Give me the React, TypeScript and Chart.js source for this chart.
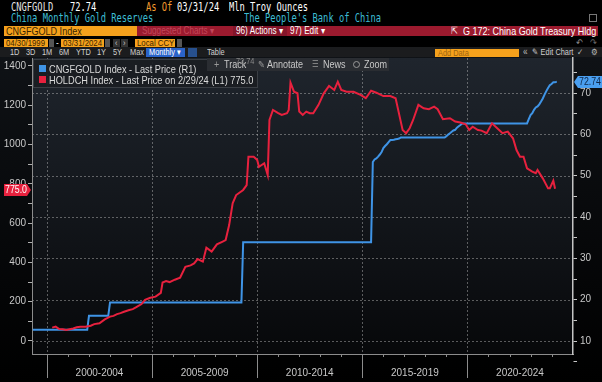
import React, { useEffect, useRef } from 'react';
import { Chart, registerables } from 'chart.js';
Chart.register(...registerables);

// ---------- DATA ----------
const blueDates = [
  '1999-04', '2001-11', '2001-12', '2002-11', '2002-12', '2009-03', '2009-04', '2015-05',
  '2015-06', '2015-07', '2015-08', '2015-09', '2015-10', '2015-11', '2015-12', '2016-01',
  '2016-02', '2016-03', '2016-04', '2016-05', '2016-06', '2016-07', '2016-08', '2016-09',
  '2016-10', '2018-11', '2018-12', '2019-01', '2019-02', '2019-03', '2019-04', '2019-05',
  '2019-06', '2019-07', '2019-08', '2019-09', '2022-10', '2022-11', '2022-12', '2023-01',
  '2023-02', '2023-03', '2023-04', '2023-05', '2023-06', '2023-07', '2023-08', '2023-09',
  '2023-10', '2023-11', '2023-12', '2024-01', '2024-02', '2024-03',
];
const blueValues = [
  12.7, 12.7, 16.08, 16.08, 19.29, 19.29, 33.89, 33.89,
  53.31, 53.93, 54.16, 54.62, 55.12, 55.7, 56.66, 57.18,
  57.61, 58.14, 58.62, 58.64, 58.69, 58.81, 58.89, 58.97,
  59.24, 59.24, 59.56, 59.94, 60.26, 60.62, 60.94, 61.1,
  61.61, 61.94, 62.26, 62.64, 62.64, 63.67, 64.64, 65.12,
  65.92, 66.5, 66.76, 67.27, 67.95, 68.69, 69.62, 70.46,
  71.2, 71.87, 72.19, 72.58, 72.58, 72.74,
];

const redDates = [
  '2000-03', '2000-05', '2000-07', '2000-09', '2000-11', '2001-01', '2001-03', '2001-05',
  '2001-07', '2001-10', '2002-01', '2002-03', '2002-06', '2002-09', '2002-12', '2003-02',
  '2003-04', '2003-06', '2003-08', '2003-11', '2004-01', '2004-03', '2004-06', '2004-08',
  '2004-11', '2005-02', '2005-05', '2005-06', '2005-08', '2005-10', '2006-01', '2006-04',
  '2006-07', '2006-10', '2006-12', '2007-02', '2007-05', '2007-07', '2007-10', '2008-01',
  '2008-04', '2008-06', '2008-08', '2008-10', '2008-12', '2009-04', '2009-06', '2009-07',
  '2009-10', '2009-12', '2010-01', '2010-04', '2010-06', '2010-07', '2010-09', '2010-12',
  '2011-02', '2011-05', '2011-06', '2011-07', '2011-09', '2011-11', '2011-12', '2012-02',
  '2012-04', '2012-06', '2012-08', '2012-11', '2013-02', '2013-05', '2013-08', '2013-10',
  '2013-12', '2014-03', '2014-07', '2014-11', '2015-02', '2015-05', '2015-08', '2015-12',
  '2016-04', '2016-07', '2016-11', '2017-01', '2017-03', '2017-05', '2017-08', '2017-11',
  '2018-02', '2018-05', '2018-07', '2018-10', '2019-02', '2019-05', '2019-08', '2019-11',
  '2020-01', '2020-03', '2020-06', '2020-08', '2020-11', '2021-02', '2021-05', '2021-08',
  '2021-11', '2022-02', '2022-04', '2022-06', '2022-08', '2022-10', '2023-01', '2023-03',
  '2023-04', '2023-07', '2023-10', '2023-11', '2024-01', '2024-02',
];
const redValues = [
  68, 73, 61, 60, 56, 60, 64, 70,
  73, 73, 78, 86, 90, 110, 124, 128,
  137, 142, 149, 158, 162, 172, 188, 209,
  220, 226, 245, 298, 305, 300, 312, 322,
  378, 385, 395, 417, 404, 475, 455, 492,
  505, 514, 590, 701, 743, 769, 794, 938,
  938, 922, 887, 905, 845, 1125, 1176, 1160,
  1151, 1160, 1176, 1315, 1269, 1261, 1168, 1151,
  1168, 1160, 1159, 1202, 1261, 1298, 1278, 1320,
  1278, 1269, 1269, 1253, 1236, 1274, 1264, 1247,
  1247, 1236, 1074, 1058, 1083, 1125, 1202, 1185,
  1180, 1193, 1180, 1129, 1134, 1117, 1112, 1103,
  1074, 1091, 1074, 1071, 1058, 1108, 1083, 1058,
  1066, 1032, 972, 938, 938, 879, 862, 854,
  871, 828, 777, 777, 816, 775,
];

const xTickLabels = ['2000-2004', '2005-2009', '2010-2014', '2015-2019', '2020-2024'];
const xLabelYears = [2002.5, 2007.5, 2012.5, 2017.5, 2022.5];
const xDividerYears = [2000, 2005, 2010, 2015, 2020];
const leftTickValues = [0, 100, 200, 300, 400, 500, 600, 700, 800, 900, 1000, 1100, 1200, 1300, 1400];
const rightTickValues = [5, 10, 15, 20, 25, 30, 35, 40, 45, 50, 55, 60, 65, 70, 75];
const rightGridValues = [10, 20, 30, 40, 50, 60, 70];

// ---------- HELPERS ----------
const SANS = '"Liberation Sans", Arial, sans-serif';
const MONO = '"DejaVu Sans Mono", "Liberation Mono", monospace';
const toYear = (d: string) => {
  const [y, m] = d.split('-').map(Number);
  return y + m / 12;
};
const BLUE = '#3f94e6';
const RED = '#e8213e';

const decor = {
  id: 'decor',
  beforeDraw(chart: any) {
    const { ctx, chartArea: a, width, height } = chart;
    ctx.save();
    let g = ctx.createLinearGradient(0, 0, 0, height);
    g.addColorStop(0, '#0f1216');
    g.addColorStop(1, '#000000');
    ctx.fillStyle = g;
    ctx.fillRect(0, 0, width, height);
    g = ctx.createLinearGradient(0, a.top, 0, a.bottom);
    g.addColorStop(0, '#1f252d');
    g.addColorStop(1, '#07080a');
    ctx.fillStyle = g;
    ctx.fillRect(a.left, a.top, a.right - a.left, a.bottom - a.top);
    ctx.strokeStyle = 'rgba(190,190,190,0.45)';
    ctx.lineWidth = 1;
    ctx.setLineDash([2, 2]);
    const yR = chart.scales.yR;
    rightGridValues.forEach((v) => {
      const y = Math.round(yR.getPixelForValue(v)) + 0.5;
      ctx.beginPath();
      ctx.moveTo(a.left, y);
      ctx.lineTo(a.right, y);
      ctx.stroke();
    });
    const xs = chart.scales.x;
    xDividerYears.forEach((v) => {
      const x = Math.round(xs.getPixelForValue(v)) + 0.5;
      ctx.beginPath();
      ctx.moveTo(x, a.top);
      ctx.lineTo(x, a.bottom);
      ctx.stroke();
    });
    ctx.restore();
  },
  afterDraw(chart: any) {
    const { ctx, chartArea: a } = chart;
    const xs = chart.scales.x;
    ctx.save();
    ctx.strokeStyle = '#8c8c8c';
    ctx.lineWidth = 1;
    for (let yr = 2000; yr <= 2024; yr++) {
      const x = Math.round(xs.getPixelForValue(yr)) + 0.5;
      const len = yr % 5 === 0 ? 24 : 3;
      ctx.beginPath();
      ctx.moveTo(x, a.bottom);
      ctx.lineTo(x, a.bottom + len);
      ctx.stroke();
    }
    // value tags
    const yL = chart.scales.yL;
    const yR = chart.scales.yR;
    const lastRed = redValues[redValues.length - 1];
    const lastBlue = blueValues[blueValues.length - 1];
    let y = Math.round(yL.getPixelForValue(lastRed)) + 1;
    ctx.fillStyle = RED;
    ctx.beginPath();
    ctx.moveTo(4, y - 6);
    ctx.lineTo(27, y - 6);
    ctx.lineTo(31, y);
    ctx.lineTo(27, y + 6);
    ctx.lineTo(4, y + 6);
    ctx.closePath();
    ctx.fill();
    ctx.fillStyle = '#ffffff';
    ctx.font = '10px ' + SANS;
    ctx.textAlign = 'center';
    ctx.textBaseline = 'middle';
    ctx.fillText(lastRed.toFixed(1), 16, y + 0.5, 22);
    y = Math.round(yR.getPixelForValue(lastBlue));
    ctx.fillStyle = '#4a9ff0';
    ctx.beginPath();
    ctx.moveTo(574, y);
    ctx.lineTo(578, y - 6);
    ctx.lineTo(602, y - 6);
    ctx.lineTo(602, y + 6);
    ctx.lineTo(578, y + 6);
    ctx.closePath();
    ctx.fill();
    ctx.fillStyle = '#0d2546';
    ctx.fillText(lastBlue.toFixed(2), 590, y + 0.5, 22);
    ctx.restore();
  },
};

const zeroPad = (s: any) => {
  s.paddingTop = 0;
  s.paddingBottom = 0;
  s.paddingLeft = 0;
  s.paddingRight = 0;
};

// ---------- UI pieces ----------
const Txt = ({ x, y, c = '#d2d2d2', s = 11, f = SANS, sx = 0.82, children, h }: any) => (
  <div style={{ position: 'absolute', left: x, top: y, color: c, fontSize: s, fontFamily: f, lineHeight: `${h ?? s + 1}px`, whiteSpace: 'nowrap', transform: `scaleX(${sx})`, transformOrigin: '0 0' }}>{children}</div>
);
const Mono = ({ x, y, c, children }: any) => (
  <div style={{ position: 'absolute', left: x, top: y, color: c, fontSize: 12, fontFamily: MONO, lineHeight: '12px', whiteSpace: 'pre', transform: 'scaleX(0.73)', transformOrigin: '0 0' }}>{children}</div>
);
const Box = ({ x, y, w, h, bg, c = '#3a2500', s = 10, children, pl = 2, sx = 0.82 }: any) => (
  <div style={{ position: 'absolute', left: x, top: y, width: w, height: h, background: bg, boxSizing: 'border-box', overflow: 'hidden' }}>
    <div style={{ position: 'absolute', left: pl, top: 0, color: c, fontSize: s, fontFamily: SANS, lineHeight: `${h}px`, whiteSpace: 'nowrap', transform: `scaleX(${sx})`, transformOrigin: '0 0' }}>{children}</div>
  </div>
);

export default function App() {
  const ref = useRef<HTMLCanvasElement | null>(null);
  useEffect(() => {
    if (!ref.current) return;
    const chart = new Chart(ref.current, {
      type: 'line',
      data: {
        datasets: [
          {
            label: 'HOLDCH Index',
            data: redDates.map((d, i) => ({ x: toYear(d), y: redValues[i] })),
            borderColor: RED,
            borderWidth: 2,
            pointRadius: 0,
            tension: 0,
            yAxisID: 'yL',
          },
          {
            label: 'CNGFGOLD Index',
            data: blueDates.map((d, i) => ({ x: toYear(d), y: blueValues[i] })),
            borderColor: BLUE,
            borderWidth: 2,
            pointRadius: 0,
            tension: 0,
            yAxisID: 'yR',
          },
        ],
      },
      options: {
        animation: false,
        responsive: false,
        maintainAspectRatio: false,
        layout: { padding: { top: 1, left: 0, right: 0, bottom: 0 } },
        plugins: { legend: { display: false }, tooltip: { enabled: false } },
        scales: {
          x: {
            type: 'linear',
            min: 1999.29,
            max: 2025.02,
            afterBuildTicks: (s: any) => { s.ticks = xLabelYears.map((v) => ({ value: v })); },
            afterFit: (s: any) => { s.height = 28; zeroPad(s); },
            grid: { drawOnChartArea: false, drawTicks: false },
            border: { color: '#8c8c8c', width: 1 },
            ticks: {
              autoSkip: false,
              maxRotation: 0,
              minRotation: 0,
              padding: 13,
              color: '#c8c8c8',
              font: { family: SANS, size: 10 },
              callback: (_v: any, i: number) => xTickLabels[i],
            },
          },
          yL: {
            type: 'linear',
            position: 'left',
            min: -66.2,
            max: 1440.7,
            afterBuildTicks: (s: any) => { s.ticks = leftTickValues.map((v) => ({ value: v })); },
            afterFit: (s: any) => { s.width = 32; zeroPad(s); },
            grid: { drawOnChartArea: false, drawTicks: true, tickLength: 4, tickColor: '#b0b0b0', tickWidth: 1 },
            border: { color: '#8c8c8c', width: 1 },
            ticks: {
              autoSkip: false,
              padding: 2,
              color: '#c8c8c8',
              font: { family: SANS, size: 10 },
              callback: (v: any) => (Number(v) % 200 === 0 ? String(v) : ''),
            },
          },
          yR: {
            type: 'linear',
            position: 'right',
            min: 6.855,
            max: 78.47,
            afterBuildTicks: (s: any) => { s.ticks = rightTickValues.map((v) => ({ value: v })); },
            afterFit: (s: any) => { s.width = 29; zeroPad(s); },
            grid: { drawOnChartArea: false, drawTicks: true, tickLength: 4, tickColor: '#c8c8c8', tickWidth: 1 },
            border: { color: '#c4c4c4', width: 1.5 },
            ticks: {
              autoSkip: false,
              padding: 3,
              color: '#c8c8c8',
              font: { family: SANS, size: 10 },
              callback: (v: any) => (Number(v) % 10 === 0 ? String(v) : ''),
            },
          },
        },
      },
      plugins: [decor],
    } as any);
    return () => chart.destroy();
  }, []);

  return (
    <div style={{ position: 'absolute', left: 0, top: 0, width: 602, height: 382, background: '#000', overflow: 'hidden' }}>
      {/* Row 1 */}
      <Mono x={11} y={1} c="#e4e4e4">CNGFGOLD</Mono>
      <Mono x={70} y={1} c="#ffffff">72.74</Mono>
      <Mono x={146} y={1} c="#f29a2e">As Of</Mono>
      <Mono x={177} y={1} c="#ffffff">03/31/24</Mono>
      <Mono x={229} y={1} c="#ffffff">Mln Troy Ounces</Mono>
      {/* Row 2 */}
      <Mono x={11} y={12} c="#3dbdd4">China Monthly Gold Reserves</Mono>
      <Mono x={244} y={12} c="#3dbdd4">The People's Bank of China</Mono>
      <div style={{ position: 'absolute', left: 589, top: 14, width: 8, height: 8, border: '1px solid #777', boxSizing: 'border-box' }} />
      {/* Row 3 */}
      <Box x={4} y={26} w={133} h={10} bg="#f5a11c" c="#3a2500" s={11}>CNGFGOLD Index</Box>
      <Box x={137} y={26} w={461} h={10} bg="#9b1a2e" c="#c2475a" s={10} pl={5}>Suggested Charts ▾</Box>
      <Box x={233} y={26} w={54} h={10} bg="#85152a" c="#ffffff" s={10} pl={3}>96) Actions ▾</Box>
      <Txt x={290} y={26} c="#ffffff" s={10} h={10}>97) Edit ▾</Txt>
      <Txt x={451} y={26} c="#ffffff" s={10} h={10}>⇱</Txt>
      <Txt x={463} y={26} c="#ffffff" s={11} h={10}>G 172: China Gold Treasury Hldg</Txt>
      {/* Row 4 */}
      <Box x={4} y={39} w={44} h={8} bg="#f5a11c" c="#3a2500" s={9.5}>04/30/1999</Box>
      <Box x={49} y={39} w={5} h={8} bg="#555" />
      <Txt x={56} y={38} c="#ddd" s={10} h={9}>-</Txt>
      <Box x={61} y={39} w={43} h={8} bg="#f5a11c" c="#3a2500" s={9.5}>03/31/2024</Box>
      <Box x={105} y={39} w={5} h={8} bg="#555" />
      <Box x={113} y={39} w={7} h={8} bg="#333" c="#ccc" s={9} pl={2}>‹</Box>
      <Box x={121} y={39} w={7} h={8} bg="#333" c="#ccc" s={9} pl={2}>›</Box>
      <Box x={135} y={39} w={40} h={8} bg="#f5a11c" c="#3a2500" s={9.5}>Local CCY</Box>
      <Box x={177} y={39} w={5} h={8} bg="#555" />
      <Txt x={576} y={38} c="#888" s={10} h={9}>↶</Txt>
      <Txt x={590} y={38} c="#666" s={10} h={9}>↷</Txt>
      {/* Row 5 */}
      <div style={{ position: 'absolute', left: 0, top: 47, width: 602, height: 10, background: '#1b1c1e' }} />
      <Txt x={10} y={47} s={9} h={10} c="#d0d0d0">1D</Txt>
      <Txt x={26} y={47} s={9} h={10} c="#d0d0d0">3D</Txt>
      <Txt x={42} y={47} s={9} h={10} c="#d0d0d0">1M</Txt>
      <Txt x={59} y={47} s={9} h={10} c="#d0d0d0">6M</Txt>
      <Txt x={76} y={47} s={9} h={10} c="#d0d0d0">YTD</Txt>
      <Txt x={97} y={47} s={9} h={10} c="#d0d0d0">1Y</Txt>
      <Txt x={113} y={47} s={9} h={10} c="#d0d0d0">5Y</Txt>
      <Txt x={130} y={47} s={9} h={10} c="#d0d0d0">Max</Txt>
      <Box x={146} y={48} w={39} h={9} bg="#2a63c9" c="#ffffff" s={9} pl={3}>Monthly ▾</Box>
      <Box x={188} y={48} w={9} h={9} bg="#27508e" />
      <Txt x={207} y={47} s={9} h={10} c="#d0d0d0">Table</Txt>
      <Box x={435} y={49} w={84} h={8} bg="#f5a11c" c="#9b6410" s={9} pl={3}>Add Data</Box>
      <Txt x={523} y={47} s={10} h={10} c="#bbb">«</Txt>
      <Txt x={532} y={47} s={9} h={10} c="#d0d0d0">✎ Edit Chart</Txt>
      <Txt x={577} y={47} s={9} h={10} c="#bbb">✓</Txt>
      <Txt x={591} y={47} s={9} h={10} c="#bbb">⚙</Txt>
      {/* Chart */}
      <canvas ref={ref} width={602} height={325} style={{ position: 'absolute', left: 0, top: 57, width: 602, height: 325 }} />
      {/* Legend overlay */}
      <div style={{ position: 'absolute', left: 33, top: 59, width: 225, height: 29, background: 'rgba(26,29,34,0.92)', border: '1px solid #3a3e44', boxSizing: 'border-box' }} />
      <div style={{ position: 'absolute', left: 39, top: 65, width: 7, height: 7, background: BLUE }} />
      <div style={{ position: 'absolute', left: 39, top: 76, width: 7, height: 7, background: RED }} />
      <Txt x={49} y={63} s={11} h={12} sx={0.84} c="#dadada">CNGFGOLD Index - Last Price (R1)</Txt>
      <Txt x={49} y={74} s={11} h={12} sx={0.84} c="#dadada">HOLDCH Index - Last Price on 2/29/24 (L1) 775.0</Txt>
      {/* Toolbar overlay */}
      <div style={{ position: 'absolute', left: 207, top: 58, width: 182, height: 13, background: '#2a2d32' }} />
      <Txt x={214} y={58} s={11} h={13} c="#999">+</Txt>
      <Txt x={224} y={58} s={11} h={13} c="#c8c8c8">Track</Txt>
      <Txt x={236} y={56} s={9} h={10} c="#8a8a8a">72.74</Txt>
      <Txt x={258} y={58} s={10} h={13} c="#999">✎</Txt>
      <Txt x={267} y={58} s={11} h={13} c="#c8c8c8">Annotate</Txt>
      <Txt x={312} y={58} s={9} h={13} c="#999">☰</Txt>
      <Txt x={323} y={58} s={11} h={13} c="#c8c8c8">News</Txt>
      <div style={{ position: 'absolute', left: 353, top: 61, width: 5, height: 5, border: '1px solid #999', borderRadius: 4 }} />
      <Txt x={364} y={58} s={11} h={13} c="#c8c8c8">Zoom</Txt>
    </div>
  );
}
